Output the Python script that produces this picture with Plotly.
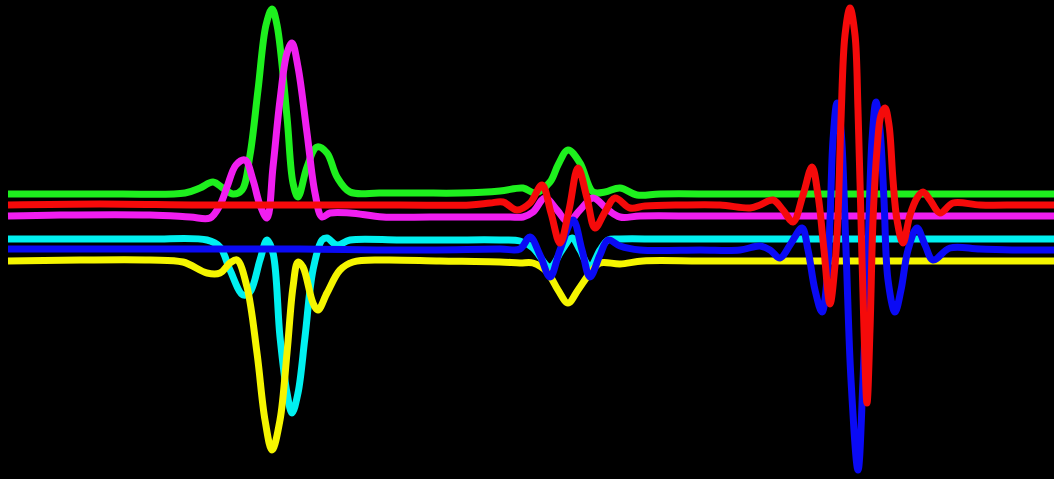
import plotly.graph_objects as go

# Six channels of a multi-trace wavelet recording: sample times and amplitudes.
green_t = [8, 60, 120, 185, 200, 213, 224, 233, 242, 250, 258, 266, 272, 277, 287, 293, 298,
           307, 317, 327, 337, 350, 380, 420, 460, 500, 523, 535, 550, 558, 568, 580, 593, 605,
           620, 637, 660, 720, 780, 840, 900, 960, 1010, 1054]
green_v = [46, 46, 46, 47, 52, 58, 51, 46, 50, 85, 150, 215, 231, 215, 123, 57, 43,
           73, 93, 87, 63, 48, 47, 47, 47, 49, 52, 47, 58, 75, 90, 77, 48, 48,
           52, 45, 46, 46, 46, 46, 46, 46, 46, 46]

magenta_t = [8, 60, 150, 190, 210, 220, 227, 236, 245, 253, 260, 267, 273, 280, 287, 292, 298,
             307, 315, 322, 330, 350, 383, 430, 480, 510, 523, 533, 545, 557, 568, 580, 593, 607,
             620, 640, 700, 760, 820, 880, 940, 1000, 1054]
magenta_v = [24, 25, 25, 23, 22, 35, 53, 75, 80, 60, 35, 22, 73, 140, 187, 197, 173,
             107, 47, 23, 27, 27, 23, 23, 23, 23, 23, 28, 42, 30, 18, 30, 42, 31,
             23, 24, 24, 24, 24, 24, 24, 24, 24]

red_t = [8, 100, 200, 300, 400, 470, 490, 503, 517, 530, 542, 551, 560, 569, 578, 587,
         595, 605, 615, 630, 645, 680, 720, 750, 760, 773, 783, 793, 803, 812, 818, 824, 830,
         835, 838, 841, 845, 850, 855, 858, 861, 864, 867, 870, 873, 877, 881, 885, 889,
         893, 897, 903, 910, 917, 923, 930, 940, 953, 980, 1020, 1054]
red_v = [35, 36, 35, 35, 35, 35, 37, 38, 30, 37, 55, 27, -3, 30, 72, 42,
         12, 28, 42, 32, 34, 35, 35, 32, 35, 40, 30, 18, 45, 73, 45, -10, -64,
         -25, 25, 120, 205, 232, 205, 130, 20, -90, -163, -90, 20, 90, 125, 132, 115,
         60, 20, -3, 25, 42, 48, 40, 27, 37, 35, 35, 35]

cyan_t = [8, 80, 150, 207, 220, 230, 243, 250, 260, 267, 273, 280, 287, 292, 298, 305, 313,
          322, 327, 337, 350, 400, 450, 500, 520, 533, 550, 562, 572, 580, 590, 600, 608,
          620, 660, 720, 780, 840, 900, 960, 1010, 1054]
cyan_v = [1, 1, 1, 0, -7, -30, -55, -52, -20, 0, -13, -97, -153, -173, -153, -97, -30,
          0, 2, -5, 0, 0, 0, 0, -1, -8, -27, -10, 2, -10, -27, -10, 0,
          1, 1, 1, 1, 1, 1, 1, 1, 1]

blue_t = [8, 100, 200, 300, 400, 500, 520, 530, 540, 550, 560, 573, 582, 590, 600, 608, 620, 640,
          700, 740, 760, 770, 780, 790, 802, 808, 815, 822, 827, 830, 833, 837, 841,
          846, 851, 858, 863, 868, 872, 876, 880, 884, 888, 895, 901, 908, 917, 925,
          933, 950, 980, 1020, 1054]
blue_v = [-9, -9, -9, -9, -10, -9, -9, 3, -15, -37, -10, 20, -10, -37, -15, 0, -6, -10,
          -10, -10, -6, -10, -18, -5, 12, -10, -50, -72, -40, 20, 100, 137, 110,
          -10, -140, -230, -140, -10, 100, 138, 110, 40, -40, -72, -50, -10, 12, -5,
          -20, -8, -9, -10, -10]

yellow_t = [8, 80, 150, 183, 207, 220, 230, 237, 247, 257, 265, 272, 280, 287, 293, 298, 303,
            313, 318, 327, 340, 353, 383, 440, 500, 520, 533, 547, 558, 568, 578, 590, 600,
            620, 643, 700, 760, 820, 880, 940, 1000, 1054]
yellow_v = [-21, -20, -20, -22, -33, -33, -23, -20, -47, -113, -180, -210, -180, -113, -47, -22, -27,
            -63, -70, -53, -30, -22, -20, -21, -22, -23, -23, -32, -50, -63, -50, -33, -23,
            -24, -21, -21, -21, -21, -21, -21, -21, -21]

# Back-to-front drawing order
channels = [
    ("cyan", cyan_t, cyan_v, "#00f0f0"),
    ("yellow", yellow_t, yellow_v, "#f5f500"),
    ("green", green_t, green_v, "#1ef01e"),
    ("magenta", magenta_t, magenta_v, "#f01ef0"),
    ("blue", blue_t, blue_v, "#0a0af5"),
    ("red", red_t, red_v, "#f50a0a"),
]

fig = go.Figure()
for name, t, v, color in channels:
    fig.add_trace(go.Scatter(
        x=t, y=v, name=name, mode="lines",
        line=dict(color=color, width=7, shape="spline", smoothing=1.0),
        hoverinfo="skip",
    ))

fig.update_layout(
    width=1054, height=479,
    margin=dict(l=0, r=0, t=0, b=0),
    paper_bgcolor="black", plot_bgcolor="black",
    showlegend=False,
    xaxis=dict(range=[0, 1054], visible=False, fixedrange=True),
    yaxis=dict(range=[-239, 240], visible=False, fixedrange=True),
)

fig.write_html("out.html", config={"displayModeBar": False})
